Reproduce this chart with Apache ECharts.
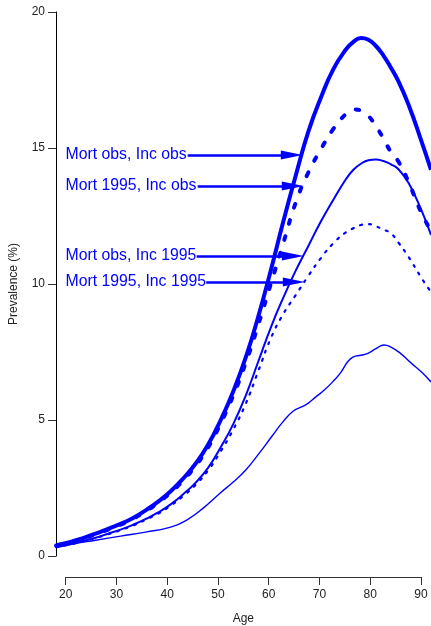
<!DOCTYPE html>
<html><head><meta charset="utf-8">
<script src="https://cdn.jsdelivr.net/npm/echarts@6/dist/echarts.min.js"></script>
<style>html,body{margin:0;padding:0;background:#fff}#c{width:431px;height:626px}</style>
</head><body><div id="c"></div>
<script>
// Shared age grid for the four scenario curves
const ages = [17.1, 20, 22.5, 25, 27.5, 30, 32.5, 35, 37.5, 40, 42.5, 45, 47.5, 50, 52.5, 55, 57.5, 60, 62.5, 65, 67.5, 70, 72.5, 75, 76.5, 78, 79.5, 81, 82.5, 84, 85.5, 87.5, 90, 92];
const mortObsIncObs = [0.40, 0.52, 0.66, 0.82, 1.00, 1.18, 1.40, 1.68, 2.00, 2.38, 2.85, 3.40, 4.10, 5.00, 6.05, 7.30, 8.80, 10.50, 12.30, 14.00, 15.60, 16.85, 17.90, 18.62, 18.90, 19.04, 18.98, 18.75, 18.40, 17.95, 17.45, 16.60, 15.30, 14.20];
const mort95IncObs = [0.38, 0.50, 0.64, 0.80, 0.97, 1.15, 1.37, 1.64, 1.96, 2.33, 2.78, 3.32, 4.00, 4.88, 5.90, 7.10, 8.50, 10.00, 11.50, 13.00, 14.10, 14.95, 15.70, 16.25, 16.42, 16.38, 16.18, 15.80, 15.35, 14.85, 14.50, 13.75, 12.65, 11.95];
const mortObsInc95 = [0.34, 0.44, 0.55, 0.67, 0.82, 0.97, 1.15, 1.36, 1.60, 1.90, 2.27, 2.70, 3.25, 4.00, 4.85, 5.90, 7.15, 8.40, 9.50, 10.50, 11.40, 12.30, 13.10, 13.85, 14.20, 14.42, 14.55, 14.58, 14.52, 14.40, 14.22, 13.72, 12.75, 11.80];
const mort95Inc95 = [0.33, 0.43, 0.54, 0.66, 0.80, 0.95, 1.12, 1.33, 1.56, 1.85, 2.20, 2.62, 3.15, 3.85, 4.65, 5.60, 6.80, 8.00, 8.90, 9.60, 10.30, 10.95, 11.50, 11.90, 12.05, 12.17, 12.20, 12.12, 12.00, 11.86, 11.52, 11.00, 10.25, 9.70];
// Lowest (unlabelled) curve
const ages5 = [17.1, 20, 25, 30, 35, 40, 43.2, 46.5, 49.8, 52.5, 55, 57.7, 60.3, 62.5, 64.5, 66, 67.5, 69, 70.8, 72.7, 74, 75.4, 76.5, 78, 79.4, 81, 82.6, 84, 85.9, 88, 90, 92];
const prev5 = [0.30, 0.42, 0.58, 0.73, 0.88, 1.06, 1.32, 1.76, 2.30, 2.72, 3.16, 3.78, 4.42, 4.95, 5.33, 5.47, 5.62, 5.85, 6.12, 6.47, 6.75, 7.15, 7.32, 7.38, 7.45, 7.62, 7.76, 7.68, 7.45, 7.10, 6.78, 6.40];
// Annotations
const labelTexts = ['Mort obs, Inc obs', 'Mort 1995, Inc obs', 'Mort obs, Inc 1995', 'Mort 1995, Inc 1995'];
const labelAge = 18.9;
const arrowY = [14.74, 13.6, 11.03, 10.07];
const arrowFrom = [43.4, 45.4, 45.2, 47.1];
const arrowTo = [64.2, 64.4, 64.4, 64.6];
// Axes
const xTicks = [20, 30, 40, 50, 60, 70, 80, 90];
const yTicks = [0, 5, 10, 15, 20];

const BLUE = '#0000ff';
const FONT = 'Liberation Sans, Arial, sans-serif';
function pairs(xs, ys) { return xs.map((x, i) => [x, ys[i]]); }
function lineSeries(xs, ys, width, type, cap) {
  return {
    type: 'line', xAxisIndex: 0, yAxisIndex: 0, data: pairs(xs, ys),
    showSymbol: false, symbol: 'none', smooth: 0.5, clip: true,
    lineStyle: { color: BLUE, width: width, type: type, cap: cap || 'butt', join: 'round', opacity: 1 },
    silent: true, animation: false
  };
}
const chart = echarts.init(document.getElementById('c'), null, { renderer: 'canvas' });
const option = {
  animation: false,
  grid: [
    { left: 51, right: 0, top: 12, bottom: 70 },
    { left: 65.7, right: 10, top: 560, bottom: 48 }
  ],
  xAxis: [
    { gridIndex: 0, type: 'value', min: 17.1, max: 92, show: false },
    {
      gridIndex: 1, type: 'value', min: xTicks[0], max: xTicks[xTicks.length - 1], interval: 10,
      axisLine: { show: true, lineStyle: { color: '#333', width: 1 } },
      axisTick: { show: true, length: 8, lineStyle: { color: '#333' } },
      axisLabel: { margin: 12, fontSize: 12, color: '#222', fontFamily: FONT },
      splitLine: { show: false },
      name: 'Age', nameLocation: 'middle', nameGap: 36,
      nameTextStyle: { fontSize: 12, color: '#222', fontFamily: FONT }
    }
  ],
  yAxis: [
    {
      gridIndex: 0, type: 'value', min: yTicks[0], max: yTicks[yTicks.length - 1], interval: 5,
      axisLine: { show: true, lineStyle: { color: '#000', width: 1 } },
      axisTick: { show: true, length: 8, lineStyle: { color: '#333' } },
      axisLabel: { margin: 11, fontSize: 12, color: '#222', fontFamily: FONT },
      splitLine: { show: false },
      name: 'Prevalence (%)', nameLocation: 'middle', nameGap: 36,
      nameTextStyle: { fontSize: 12, color: '#222', fontFamily: FONT }
    },
    { gridIndex: 1, type: 'value', min: 0, max: 1, show: false }
  ],
  series: [
    lineSeries(ages5, prev5, 1.4, 'solid'),
    lineSeries(ages, mort95Inc95, 2.2, [2, 7], 'round'),
    lineSeries(ages, mortObsInc95, 2, 'solid'),
    lineSeries(ages, mort95IncObs, 4, [4, 13], 'round'),
    lineSeries(ages, mortObsIncObs, 4, 'solid'),
    {
      type: 'scatter', xAxisIndex: 0, yAxisIndex: 0, silent: true, animation: false,
      symbolSize: 1, itemStyle: { color: 'rgba(0,0,0,0)', opacity: 1 },
      data: labelTexts.map((t, i) => ({ name: t, value: [labelAge, arrowY[i]] })),
      label: { show: true, position: 'right', distance: 0, formatter: '{b}', color: BLUE, opacity: 1, fontSize: 15.8, fontFamily: FONT },
      markLine: {
        silent: true, animation: false,
        symbol: ['none', 'triangle'], symbolSize: [9, 22],
        lineStyle: { color: BLUE, width: 2.5, type: 'solid', opacity: 1 },
        itemStyle: { color: BLUE },
        label: { show: false },
        data: arrowY.map((y, i) => [{ coord: [arrowFrom[i], y] }, { coord: [arrowTo[i], y] }])
      }
    }
  ]
};
chart.setOption(option);
</script></body></html>
